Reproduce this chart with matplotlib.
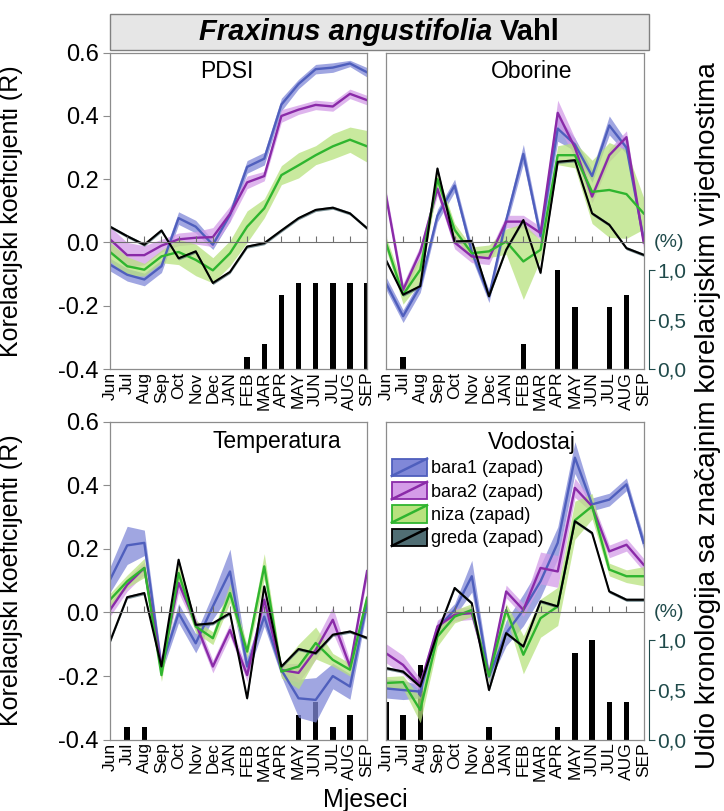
import numpy as np
import matplotlib.pyplot as plt
from matplotlib.patches import Rectangle
from matplotlib.lines import Line2D
from matplotlib.legend_handler import HandlerBase
from matplotlib.offsetbox import TextArea, HPacker, AnnotationBbox

plt.rcParams['font.family'] = ['Liberation Sans', 'DejaVu Sans']

months = ['Jun', 'Jul', 'Aug', 'Sep', 'Oct', 'Nov', 'Dec', 'JAN', 'FEB',
          'MAR', 'APR', 'MAY', 'JUN', 'JUL', 'AUG', 'SEP']
series = ['bara1 (zapad)', 'bara2 (zapad)', 'niza (zapad)', 'greda (zapad)']

# ---- PDSI
pdsi_bara1 = [-0.070, -0.102, -0.117, -0.075, 0.077, 0.050, -0.007, 0.087,
              0.239, 0.265, 0.436, 0.501, 0.548, 0.553, 0.566, 0.538]
pdsi_bara2 = [0.010, -0.040, -0.040, -0.010, 0.010, 0.015, 0.017, 0.090,
              0.190, 0.210, 0.400, 0.420, 0.435, 0.430, 0.470, 0.450]
pdsi_niza = [-0.030, -0.075, -0.086, -0.044, -0.030, -0.055, -0.088, -0.034,
             0.050, 0.108, 0.213, 0.244, 0.276, 0.304, 0.325, 0.304]
pdsi_greda = [0.050, 0.020, -0.007, 0.038, -0.050, -0.028, -0.128, -0.093,
              -0.013, -0.002, 0.038, 0.077, 0.103, 0.110, 0.092, 0.045]
pdsi_bara1_ci = [0.02, 0.02, 0.02, 0.02, 0.02, 0.02, 0.015, 0.02,
                 0.02, 0.02, 0.02, 0.015, 0.015, 0.015, 0.01, 0.015]
pdsi_bara2_ci = [0.04, 0.04, 0.03, 0.02, 0.02, 0.02, 0.03, 0.025,
                 0.02, 0.015, 0.02, 0.015, 0.015, 0.015, 0.015, 0.015]
pdsi_niza_ci = [0.03, 0.03, 0.02, 0.02, 0.04, 0.05, 0.04, 0.04,
                0.05, 0.03, 0.03, 0.04, 0.03, 0.04, 0.04, 0.05]
pdsi_greda_ci = [0.005] * 16
pdsi_pct = [0, 0, 0, 0, 0, 0, 0, 0, 0.125, 0.25, 0.75, 0.875, 0.875, 0.875, 0.875, 0.875]

# ---- Oborine
obo_bara1 = [-0.128, -0.233, -0.138, 0.085, 0.180, -0.030, -0.170, 0.070,
             0.280, 0.020, 0.360, 0.310, 0.210, 0.370, 0.300, 0.010]
obo_bara2 = [0.150, -0.150, -0.030, 0.170, 0.000, -0.044, -0.050, 0.066,
             0.066, 0.030, 0.410, 0.300, 0.145, 0.276, 0.333, 0.000]
obo_niza = [0.000, -0.165, -0.086, 0.200, 0.040, -0.034, -0.028, 0.003,
            -0.060, -0.023, 0.276, 0.276, 0.160, 0.166, 0.153, 0.092]
obo_greda = [-0.055, -0.165, -0.138, 0.234, 0.003, 0.005, -0.170, -0.023,
             0.071, -0.096, 0.255, 0.260, 0.092, 0.056, -0.018, -0.039]
obo_bara1_ci = [0.02, 0.02, 0.02, 0.02, 0.02, 0.02, 0.02, 0.02,
                0.03, 0.02, 0.04, 0.02, 0.02, 0.03, 0.02, 0.02]
obo_bara2_ci = [0.02, 0.02, 0.02, 0.02, 0.02, 0.02, 0.02, 0.02,
                0.02, 0.02, 0.04, 0.03, 0.02, 0.02, 0.02, 0.02]
obo_niza_ci = [0.02, 0.03, 0.04, 0.02, 0.02, 0.02, 0.02, 0.04,
               0.12, 0.03, 0.03, 0.04, 0.10, 0.15, 0.14, 0.05]
obo_greda_ci = [0.005] * 16
obo_pct = [0, 0.125, 0, 0, 0, 0, 0, 0, 0.25, 0, 1.0, 0.625, 0, 0.625, 0.75, 0]

# ---- Temperatura
temp_bara1 = [0.103, 0.211, 0.219, -0.170, -0.002, -0.097, 0.019, 0.129,
              -0.170, -0.013, -0.181, -0.270, -0.275, -0.200, -0.233, 0.030]
temp_bara2 = [0.008, 0.087, 0.140, -0.170, 0.093, -0.034, -0.170, -0.055,
              -0.197, 0.040, -0.181, -0.190, -0.118, -0.023, -0.170, 0.130]
temp_niza = [0.040, 0.098, 0.140, -0.197, 0.124, -0.044, -0.081, 0.061,
             -0.123, 0.145, -0.186, -0.170, -0.096, -0.149, -0.180, 0.046]
temp_greda = [-0.091, 0.048, 0.061, -0.170, 0.166, -0.039, -0.034, -0.002,
              -0.270, 0.082, -0.170, -0.115, -0.128, -0.070, -0.060, -0.080]
temp_bara1_ci = [0.04, 0.06, 0.04, 0.02, 0.03, 0.03, 0.04, 0.07,
                 0.03, 0.03, 0.02, 0.06, 0.07, 0.04, 0.04, 0.02]
temp_bara2_ci = [0.02, 0.02, 0.02, 0.02, 0.03, 0.02, 0.02, 0.02,
                 0.02, 0.02, 0.02, 0.03, 0.03, 0.04, 0.02, 0.02]
temp_niza_ci = [0.02, 0.02, 0.03, 0.02, 0.03, 0.02, 0.02, 0.03,
                0.02, 0.04, 0.02, 0.07, 0.05, 0.02, 0.02, 0.02]
temp_greda_ci = [0.005] * 16
temp_pct = [0, 0.125, 0.125, 0, 0, 0, 0, 0, 0, 0, 0, 0.25, 0.375, 0.125, 0.25, 0]

# ---- Vodostaj
vod_bara1 = [-0.239, -0.244, -0.249, -0.049, 0.008, 0.114, -0.202, -0.065,
             0.008, 0.098, 0.219, 0.487, 0.340, 0.355, 0.403, 0.219]
vod_bara2 = [-0.128, -0.165, -0.228, -0.044, -0.007, -0.002, -0.197, 0.066,
             0.008, 0.140, 0.129, 0.392, 0.334, 0.192, 0.213, 0.150]
vod_niza = [-0.222, -0.219, -0.307, -0.076, -0.013, 0.008, -0.200, 0.008,
            -0.133, -0.018, 0.019, 0.290, 0.334, 0.135, 0.114, 0.114]
vod_greda = [-0.175, -0.186, -0.233, -0.065, 0.077, 0.029, -0.244, -0.065,
             -0.107, 0.035, 0.019, 0.287, 0.250, 0.066, 0.040, 0.040]
vod_bara1_ci = [0.03, 0.03, 0.02, 0.02, 0.02, 0.05, 0.02, 0.04,
                0.05, 0.05, 0.05, 0.05, 0.02, 0.02, 0.02, 0.02]
vod_bara2_ci = [0.03, 0.03, 0.02, 0.02, 0.02, 0.02, 0.02, 0.02,
                0.02, 0.05, 0.05, 0.03, 0.02, 0.02, 0.02, 0.02]
vod_niza_ci = [0.02, 0.02, 0.04, 0.03, 0.02, 0.02, 0.02, 0.02,
               0.06, 0.06, 0.06, 0.06, 0.04, 0.02, 0.02, 0.03]
vod_greda_ci = [0.005] * 16
vod_pct = [0.375, 0.25, 0.75, 0, 0, 0, 0.125, 0, 0, 0, 0.125, 0.875, 1.0, 0.375, 0.375, 0]

line_colors = ['#4f5fbd', '#8a2aa8', '#2fb52f', '#000000']
band_colors = ['#8088d8', '#d49ce8', '#b8e27e', '#506e74']
teal = '#1f4a4a'
spine_grey = '#8c8c8c'

panels = [
    ('PDSI', [pdsi_bara1, pdsi_bara2, pdsi_niza, pdsi_greda],
     [pdsi_bara1_ci, pdsi_bara2_ci, pdsi_niza_ci, pdsi_greda_ci], pdsi_pct, (0.454, 0.941)),
    ('Oborine', [obo_bara1, obo_bara2, obo_niza, obo_greda],
     [obo_bara1_ci, obo_bara2_ci, obo_niza_ci, obo_greda_ci], obo_pct, (0.566, 0.941)),
    ('Temperatura', [temp_bara1, temp_bara2, temp_niza, temp_greda],
     [temp_bara1_ci, temp_bara2_ci, temp_niza_ci, temp_greda_ci], temp_pct, (0.649, 0.937)),
    ('Vodostaj', [vod_bara1, vod_bara2, vod_niza, vod_greda],
     [vod_bara1_ci, vod_bara2_ci, vod_niza_ci, vod_greda_ci], vod_pct, (0.565, 0.935)),
]

# axes rectangles (figure fraction)
rects = [
    [0.152, 0.545, 0.355, 0.390],
    [0.533, 0.545, 0.356, 0.390],
    [0.152, 0.088, 0.355, 0.392],
    [0.533, 0.088, 0.356, 0.392],
]


class LegendKey:
    def __init__(self, face, line):
        self.face = face
        self.line = line


class HandlerKey(HandlerBase):
    def create_artists(self, legend, orig_handle, xdescent, ydescent,
                       width, height, fontsize, trans):
        x0, y0 = -xdescent, -ydescent
        r = Rectangle((x0, y0), width, height, facecolor=orig_handle.face,
                      edgecolor=orig_handle.line, lw=1.3, transform=trans)
        l = Line2D([x0, x0 + width], [y0, y0 + height], color=orig_handle.line,
                   lw=1.8, transform=trans)
        return [r, l]


fig = plt.figure(figsize=(7.24, 8.11), dpi=100)
x = np.arange(len(months))

for i, (name, vals, cis, pct, tpos) in enumerate(panels):
    ax = fig.add_axes(rects[i])
    ax2 = ax.twinx()
    ax.set_zorder(ax2.get_zorder() + 1)
    ax.patch.set_visible(False)

    ax2.bar(x, pct, width=0.32, color='k')
    ax2.set_ylim(0, 3.2)

    for v, ci, bc in zip(vals, cis, band_colors):
        v = np.array(v)
        ci = np.array(ci)
        ax.fill_between(x, v - ci, v + ci, color=bc, alpha=0.75, lw=0)
    for v, lc in zip(vals, line_colors):
        ax.plot(x, v, color=lc, lw=1.7 if lc != '#000000' else 1.5)

    ax.axhline(0, color='#707070', lw=0.8)
    ax.plot(x, np.zeros(len(x)), ls='none', marker=2, ms=4, color='#707070', mew=0.8)

    ax.set_xlim(0, 15)
    ax.set_ylim(-0.4, 0.6)
    for s in ax.spines.values():
        s.set_color(spine_grey)
        s.set_linewidth(0.9)
    for s in ax2.spines.values():
        s.set_visible(False)

    ax.set_xticks(x)
    ax.set_xticklabels(months, rotation=90, fontsize=12.5)
    ax.tick_params(axis='x', length=0, pad=2)

    if i % 2 == 0:
        ax.set_yticks([-0.4, -0.2, 0.0, 0.2, 0.4, 0.6])
        ax.set_yticklabels(['-0.4', '-0.2', '0.0', '0.2', '0.4', '0.6'], fontsize=17)
        ax.tick_params(axis='y', length=5, color=spine_grey, pad=3)
        ax.set_ylabel('Korelacijski koeficijenti (R)', fontsize=18)
        ax.yaxis.set_label_coords(-0.34, 0.5)
        ax2.set_yticks([])
    else:
        ax.set_yticks([])
        sp = ax2.spines['right']
        sp.set_visible(True)
        sp.set_position(('outward', 4))
        sp.set_bounds(0, 1)
        sp.set_color(teal)
        ax2.set_yticks([0, 0.5, 1.0])
        ax2.set_yticklabels(['0,0', '0,5', '1,0'], fontsize=15, color=teal)
        ax2.tick_params(axis='y', length=4, color=teal, pad=2)
        ax.text(1.10, 0.40, '(%)', transform=ax.transAxes, fontsize=14,
                color=teal, ha='center', va='center')

    ax.text(tpos[0], tpos[1], name, transform=ax.transAxes, fontsize=16.5,
            ha='center', va='center')

    if name == 'Vodostaj':
        keys = [LegendKey(bc, lc) for bc, lc in zip(band_colors, line_colors)]
        ax.legend(keys, series, handler_map={LegendKey: HandlerKey()},
                  loc='upper left', bbox_to_anchor=(0.023, 0.884),
                  frameon=False, fontsize=13, handlelength=1.95,
                  handleheight=1.1, labelspacing=0.25, handletextpad=0.2,
                  borderpad=0, borderaxespad=0)

# title box
fig.patches.append(Rectangle((0.152, 0.938), 0.744, 0.045, transform=fig.transFigure,
                             facecolor='#e6e6e6', edgecolor='#808080', lw=1.0))
title = HPacker(children=[
    TextArea('Fraxinus angustifolia', textprops=dict(style='italic', weight='bold', size=21)),
    TextArea('Vahl', textprops=dict(weight='bold', size=21))],
    sep=6, align='baseline', pad=0)
fig.add_artist(AnnotationBbox(title, (0.524, 0.961), xycoords='figure fraction',
                              frameon=False, box_alignment=(0.5, 0.5)))

fig.text(0.978, 0.487, 'Udio kronologija sa značajnim korelacijskim vrijednostima',
         rotation=90, fontsize=20, ha='center', va='center')
fig.text(0.504, 0.014, 'Mjeseci', fontsize=18, ha='center', va='center')

fig.savefig('out.png', dpi=100)
